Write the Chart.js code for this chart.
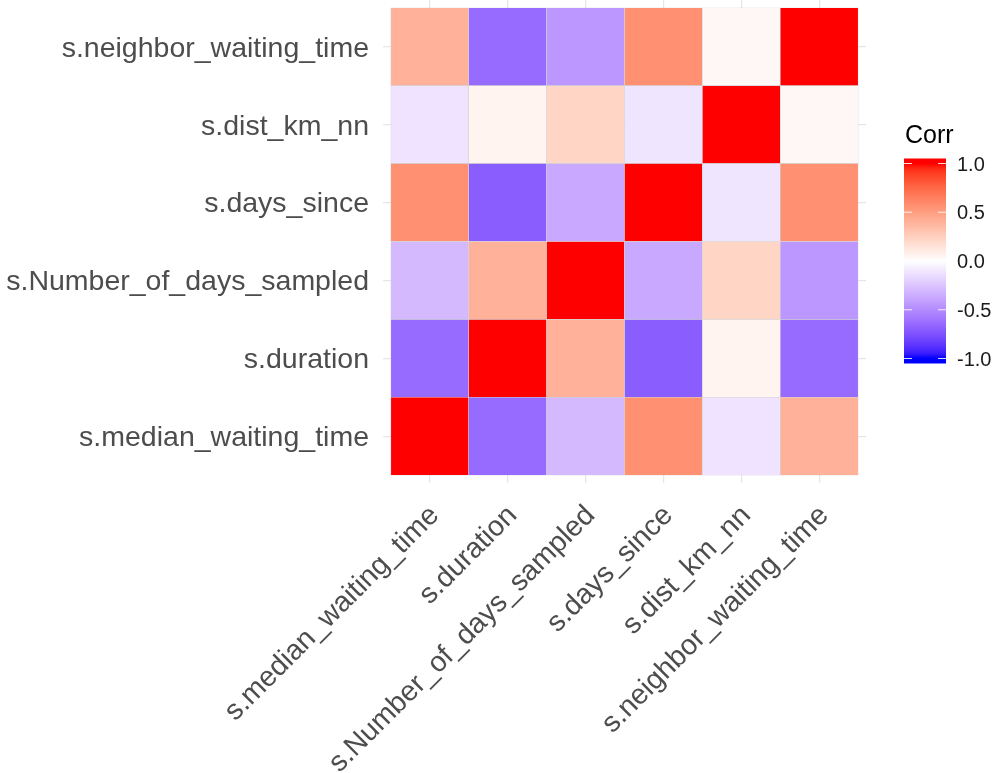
<!DOCTYPE html>
<html>
<head>
<meta charset="utf-8">
<script src="https://cdn.jsdelivr.net/npm/chart.js@4"></script>
<style>
  html, body { margin: 0; padding: 0; background: #ffffff; }
  #wrap { width: 999px; height: 773px; }
</style>
</head>
<body>
<div id="wrap"><canvas id="corr" width="999" height="773"></canvas></div>
<script>
// Variables, in matrix order (first row = bottom of the heatmap)
const variables = [
  's.median_waiting_time',
  's.duration',
  's.Number_of_days_sampled',
  's.days_since',
  's.dist_km_nn',
  's.neighbor_waiting_time'
];

// Correlation rows, one per variable, columns in the same order
const rMedian   = [ 1.00, -0.64, -0.30,  0.57, -0.12,  0.40];
const rDuration = [-0.64,  1.00,  0.40, -0.70,  0.06, -0.64];
const rNdays    = [-0.30,  0.40,  1.00, -0.37,  0.22, -0.45];
const rDays     = [ 0.57, -0.70, -0.37,  1.00, -0.11,  0.57];
const rDist     = [-0.12,  0.06,  0.22, -0.11,  1.00,  0.04];
const rNeighbor = [ 0.40, -0.64, -0.45,  0.57,  0.04,  1.00];

// Colour bar ticks
const legendTicks  = [1.0, 0.5, 0.0, -0.5, -1.0];
const legendLabels = ['1.0', '0.5', '0.0', '-0.5', '-1.0'];

const rows = [rMedian, rDuration, rNdays, rDays, rDist, rNeighbor];

// ---- diverging blue-white-red scale, interpolated in CIE Lab ----
const WX = 0.95047, WY = 1.0, WZ = 1.08883;
function toLinear(c) { c /= 255; return c <= 0.04045 ? c / 12.92 : Math.pow((c + 0.055) / 1.055, 2.4); }
function toSrgb(c) {
  c = c <= 0.0031308 ? 12.92 * c : 1.055 * Math.pow(c, 1 / 2.4) - 0.055;
  return Math.round(Math.min(1, Math.max(0, c)) * 255);
}
function fLab(t) { return t > 216 / 24389 ? Math.cbrt(t) : (24389 / 27 * t + 16) / 116; }
function fLabInv(t) { const t3 = t * t * t; return t3 > 216 / 24389 ? t3 : (116 * t - 16) / (24389 / 27); }
function rgb2lab(rgb) {
  const [r, g, b] = rgb.map(toLinear);
  const X = (0.4124564 * r + 0.3575761 * g + 0.1804375 * b) / WX;
  const Y = (0.2126729 * r + 0.7151522 * g + 0.0721750 * b) / WY;
  const Z = (0.0193339 * r + 0.1191920 * g + 0.9503041 * b) / WZ;
  const fx = fLab(X), fy = fLab(Y), fz = fLab(Z);
  return [116 * fy - 16, 500 * (fx - fy), 200 * (fy - fz)];
}
function lab2rgb([L, a, b]) {
  const fy = (L + 16) / 116, fx = fy + a / 500, fz = fy - b / 200;
  const X = WX * fLabInv(fx), Y = WY * fLabInv(fy), Z = WZ * fLabInv(fz);
  const r  =  3.2404542 * X - 1.5371385 * Y - 0.4985314 * Z;
  const g  = -0.9692660 * X + 1.8760108 * Y + 0.0415560 * Z;
  const bb =  0.0556434 * X - 0.2040259 * Y + 1.0572252 * Z;
  return [toSrgb(r), toSrgb(g), toSrgb(bb)];
}
const LOW = rgb2lab([0, 0, 255]), MID = rgb2lab([255, 255, 255]), HIGH = rgb2lab([255, 0, 0]);
function corrColor(v) {
  const t = Math.min(1, Math.abs(v));
  const end = v < 0 ? LOW : HIGH;
  const lab = MID.map((m, k) => m + (end[k] - m) * t);
  const [r, g, b] = lab2rgb(lab);
  return `rgb(${r},${g},${b})`;
}

// ---- chart ----
const FONT = '"Liberation Sans", Arial, "DejaVu Sans", sans-serif';
const AXIS_TEXT = '#4D4D4D';

const datasets = rows.map((row, i) => ({
  label: variables[i],
  data: row.map((v, j) => ({ x: j + 0.5, y: [i, i + 1], r: v })),
  backgroundColor: row.map(corrColor),
  borderColor: '#d4d4d4',
  borderWidth: 0.6,
  borderSkipped: false,
  grouped: false,
  categoryPercentage: 1,
  barPercentage: 1
}));

const centreTicks = axis => { axis.ticks = variables.map((_, j) => ({ value: j + 0.5 })); };
const labelFor = v => variables[Math.round(v - 0.5)];

const corrLegend = {
  id: 'corrLegend',
  afterDraw(chart) {
    const { ctx, chartArea } = chart;
    const cy = (chartArea.top + chartArea.bottom) / 2;
    const x0 = chartArea.right + 38, w = 42;
    const top = cy - 83, h = 205, inset = 5;
    const yAt = v => top + inset + (1 - v) / 2 * (h - 2 * inset);

    const grad = ctx.createLinearGradient(0, yAt(1), 0, yAt(-1));
    for (let k = 0; k <= 40; k++) grad.addColorStop(k / 40, corrColor(1 - k / 20));
    ctx.save();
    ctx.fillStyle = grad;
    ctx.fillRect(x0, top, w, h);

    ctx.strokeStyle = 'rgba(255,255,255,0.85)';
    ctx.lineWidth = 1.2;
    ctx.font = `20px ${FONT}`;
    ctx.fillStyle = '#1a1a1a';
    ctx.textAlign = 'left';
    ctx.textBaseline = 'middle';
    legendTicks.forEach((v, i) => {
      const y = yAt(v);
      ctx.beginPath();
      ctx.moveTo(x0, y); ctx.lineTo(x0 + 8, y);
      ctx.moveTo(x0 + w - 8, y); ctx.lineTo(x0 + w, y);
      ctx.stroke();
      ctx.fillText(legendLabels[i], x0 + w + 11, y + 1.5);
    });

    ctx.font = `25px ${FONT}`;
    ctx.fillStyle = '#000000';
    ctx.fillText('Corr', x0 + 1, top - 22);
    ctx.restore();
  }
};

new Chart(document.getElementById('corr'), {
  type: 'bar',
  data: { datasets },
  options: {
    responsive: false,
    animation: false,
    events: [],
    layout: { padding: { left: 0, top: 0, right: 133, bottom: 0 } },
    plugins: { legend: { display: false }, tooltip: { enabled: false } },
    scales: {
      x: {
        type: 'linear', min: -0.1, max: 6.1, offset: false,
        afterBuildTicks: centreTicks,
        afterFit: ax => { ax.height = 290; ax.paddingLeft = 0; ax.paddingRight = 0; },
        grid: { color: '#E6E6E6', lineWidth: 1.2, drawTicks: false, offset: false },
        border: { display: false },
        ticks: {
          autoSkip: false, minRotation: 45, maxRotation: 45, padding: 16, labelOffset: 5,
          color: AXIS_TEXT, font: { family: FONT, size: 28.5 },
          callback: labelFor
        }
      },
      y: {
        type: 'linear', min: -0.1, max: 6.1, offset: false,
        afterBuildTicks: centreTicks,
        afterFit: ax => { ax.width = 383; ax.paddingTop = 0; ax.paddingBottom = 0; },
        grid: { color: '#E6E6E6', lineWidth: 1.2, drawTicks: false, offset: false },
        border: { display: false },
        ticks: {
          padding: 14, labelOffset: 2, color: AXIS_TEXT, font: { family: FONT, size: 28.5 },
          callback: labelFor
        }
      }
    }
  },
  plugins: [corrLegend]
});
</script>
</body>
</html>
